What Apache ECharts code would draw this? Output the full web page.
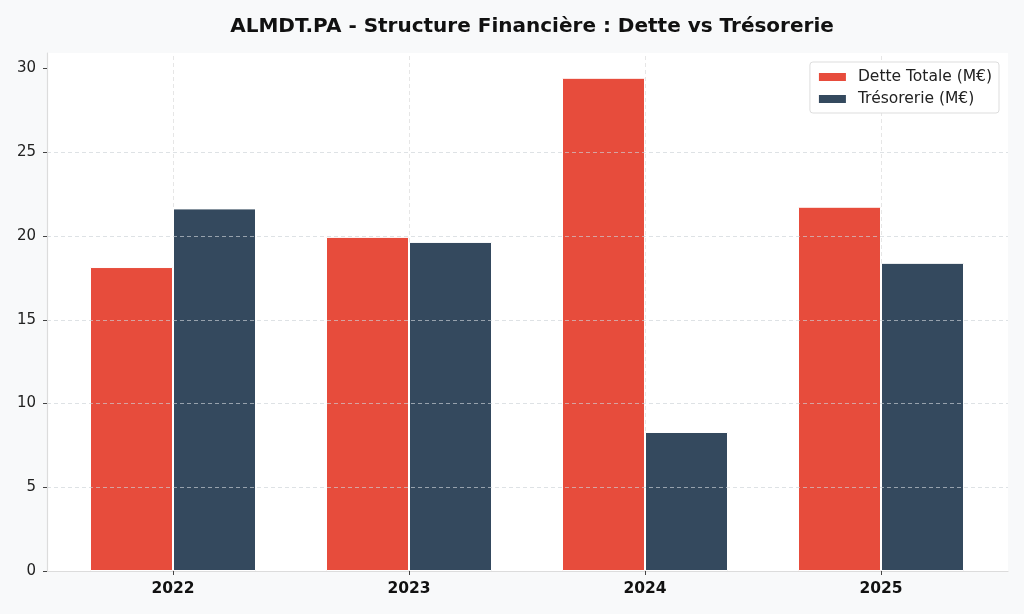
<!DOCTYPE html>
<html>
<head>
<meta charset="utf-8">
<script src="https://cdn.jsdelivr.net/npm/echarts@6/dist/echarts.min.js"></script>
<style>
  html, body { margin: 0; padding: 0; background: #f8f9fa; }
  #chart { width: 1024px; height: 614px; }
</style>
</head>
<body>
<div id="chart"></div>
<script>
  // données
  var years = ['2022', '2023', '2024', '2025']
  var detteTotale = [18.15, 19.95, 29.45, 21.75]
  var tresorerie = [21.65, 19.65, 8.3, 18.4]
  var yTicks = [0, 5, 10, 15, 20, 25, 30]

  var yMax = 30.93
  var fontFamily = 'DejaVu Sans'

  var chart = echarts.init(document.getElementById('chart'), null, { renderer: 'canvas' })

  var option = {
    backgroundColor: '#f8f9fa',
    animation: false,
    title: {
      text: 'ALMDT.PA - Structure Financière : Dette vs Trésorerie',
      left: 527,
      top: 12,
      textAlign: 'center',
      textStyle: { fontFamily: fontFamily, fontSize: 20, fontWeight: 'bold', color: '#111' }
    },
    legend: {
      right: 25,
      top: 62,
      z: 20,
      orient: 'vertical',
      icon: 'rect',
      itemWidth: 29,
      itemHeight: 10,
      itemGap: 6,
      padding: [7, 7, 6, 7],
      backgroundColor: '#fff',
      borderColor: '#dddddd',
      borderWidth: 1,
      borderRadius: 3,
      textStyle: { fontFamily: fontFamily, fontSize: 15.5, color: '#222', padding: [0, 0, 0, 6] },
      data: ['Dette Totale (M€)', 'Trésorerie (M€)']
    },
    grid: [
      // fond blanc + axe Y
      { left: 47, right: 16, top: 53, bottom: 43, show: true, backgroundColor: '#fff', borderWidth: 0 },
      // barres
      { left: 55, right: 25, top: 53, bottom: 43 }
    ],
    xAxis: [
      {
        gridIndex: 0,
        type: 'value',
        min: 0,
        max: 1,
        axisLine: { show: true, lineStyle: { color: '#dcdcdc', width: 1.2 } },
        axisTick: { show: false },
        axisLabel: { show: false },
        splitLine: { show: false }
      },
      {
        gridIndex: 1,
        type: 'category',
        data: years,
        axisLine: { show: false },
        axisTick: { show: true, alignWithLabel: true, length: 4, lineStyle: { color: '#444' } },
        axisLabel: { fontFamily: fontFamily, fontSize: 15.5, fontWeight: 'bold', color: '#111', margin: 10 },
        splitLine: { show: false }
      }
    ],
    yAxis: [
      {
        gridIndex: 0,
        type: 'value',
        min: 0,
        max: yMax,
        interval: 5,
        z: 5,
        axisLine: { show: true, lineStyle: { color: '#dcdcdc', width: 1.2 } },
        axisTick: { show: true, length: 4, lineStyle: { color: '#444' }, customValues: yTicks },
        axisLabel: { fontFamily: fontFamily, fontSize: 15, color: '#222', margin: 11, customValues: yTicks },
        splitLine: { show: true, showMaxLine: false, showMinLine: false,
          lineStyle: { color: 'rgba(205,210,215,0.65)', type: [4, 3], width: 1 } }
      },
      {
        gridIndex: 1,
        type: 'value',
        min: 0,
        max: yMax,
        show: false,
        splitLine: { show: false }
      }
    ],
    series: [
      {
        name: 'Dette Totale (M€)',
        type: 'bar',
        xAxisIndex: 1,
        yAxisIndex: 1,
        data: detteTotale,
        barWidth: 83,
        barGap: '0%',
        itemStyle: { color: '#e74c3c', borderColor: '#fff', borderWidth: 1 }
      },
      {
        name: 'Trésorerie (M€)',
        type: 'bar',
        xAxisIndex: 1,
        yAxisIndex: 1,
        data: tresorerie,
        barWidth: 83,
        barGap: '0%',
        itemStyle: { color: '#34495e', borderColor: '#fff', borderWidth: 1 }
      },
      {
        // grille verticale au centre des catégories
        name: 'grille',
        type: 'line',
        xAxisIndex: 1,
        yAxisIndex: 1,
        data: [],
        silent: true,
        z: 1,
        markLine: {
          silent: true,
          z: 1,
          symbol: 'none',
          label: { show: false },
          lineStyle: { color: '#e6e6e6', type: [4, 3], width: 1 },
          data: years.map(function (y) { return { xAxis: y } })
        }
      }
    ]
  }

  chart.setOption(option)
</script>
</body>
</html>
